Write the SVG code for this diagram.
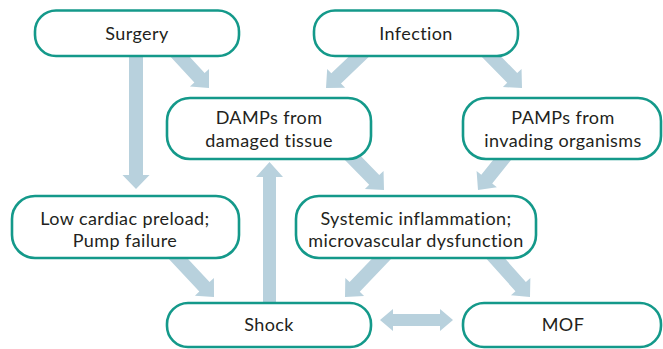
<svg xmlns="http://www.w3.org/2000/svg" width="663" height="349" viewBox="0 0 663 349">
<style>
.box{fill:#fff;stroke:#14998a;stroke-width:2.6}
.t{font-family:Lato,"Noto Sans",sans-serif;font-size:18px;letter-spacing:0.4px;fill:#231f20;text-anchor:middle}
.a{fill:#b8d1dd}
</style>
<rect width="663" height="349" fill="#fff"/>
<g id="connectors">
<polygon class="a" points="129,50 143,50 143,175 149.5,175 136,189 122.5,175 129,175"/>
<polygon class="a" points="166.86,52.75 194.35,82.47 189.95,86.55 209,88 209.03,68.89 204.63,72.97 177.14,43.25"/>
<polygon class="a" points="363.17,42.93 331.31,73.27 327.17,68.93 326,88 345.11,87.75 340.97,83.41 372.83,53.07"/>
<polygon class="a" points="477.99,52.89 507.22,82.87 502.92,87.05 522,88 521.54,68.91 517.24,73.09 488.01,43.11"/>
<polygon class="a" points="339.99,154.89 369.22,184.87 364.92,189.05 384,190 383.54,170.91 379.24,175.09 350.01,145.11"/>
<polygon class="a" points="504.53,145.63 481.28,174.69 476.6,170.94 478,190 496.9,187.19 492.22,183.44 515.47,154.38"/>
<polygon class="a" points="164.89,254.78 199.32,291.56 194.94,295.66 214,297 213.92,277.9 209.54,282 175.11,245.22"/>
<polygon class="a" points="384.95,245.16 349.64,282.05 345.3,277.89 345,297 364.08,295.89 359.74,291.73 395.05,254.84"/>
<polygon class="a" points="482.78,254.66 515.45,291.22 510.97,295.22 530,297 530.37,277.9 525.89,281.9 493.22,245.34"/>
<polygon class="a" points="263,310 276,310 276,177 283,177 269.5,162 256,177 263,177"/>
<polygon class="a" points="380,320 393,309 393,314 440,314 440,309 453,320 440,331 440,326 393,326 393,331"/>
</g>
<g id="surgery"><rect class="box" x="35" y="10.5" width="204" height="45.5" rx="21"/><text class="t" x="137" y="40">Surgery</text></g>
<g id="infection"><rect class="box" x="314" y="10.5" width="204" height="45.5" rx="21"/><text class="t" x="416" y="40">Infection</text></g>
<g id="damps"><rect class="box" x="167" y="98" width="204" height="61" rx="23"/><text class="t" x="269" y="123.5">DAMPs from</text><text class="t" x="269" y="147">damaged tissue</text></g>
<g id="pamps"><rect class="box" x="463" y="98" width="198" height="61" rx="23"/><text class="t" x="563" y="123.5">PAMPs from</text><text class="t" x="563" y="147">invading organisms</text></g>
<g id="lowcardiac"><rect class="box" x="12" y="196" width="227" height="62" rx="23"/><text class="t" x="125" y="225">Low cardiac preload;</text><text class="t" x="125" y="247">Pump failure</text></g>
<g id="systemic"><rect class="box" x="296" y="196" width="240" height="62" rx="23"/><text class="t" x="416" y="225">Systemic inflammation;</text><text class="t" x="416" y="247">microvascular dysfunction</text></g>
<g id="shock"><rect class="box" x="167" y="303" width="204" height="44" rx="21"/><text class="t" x="269" y="331">Shock</text></g>
<g id="mof"><rect class="box" x="463" y="303" width="198" height="44" rx="21"/><text class="t" x="563" y="331">MOF</text></g>
</svg>
